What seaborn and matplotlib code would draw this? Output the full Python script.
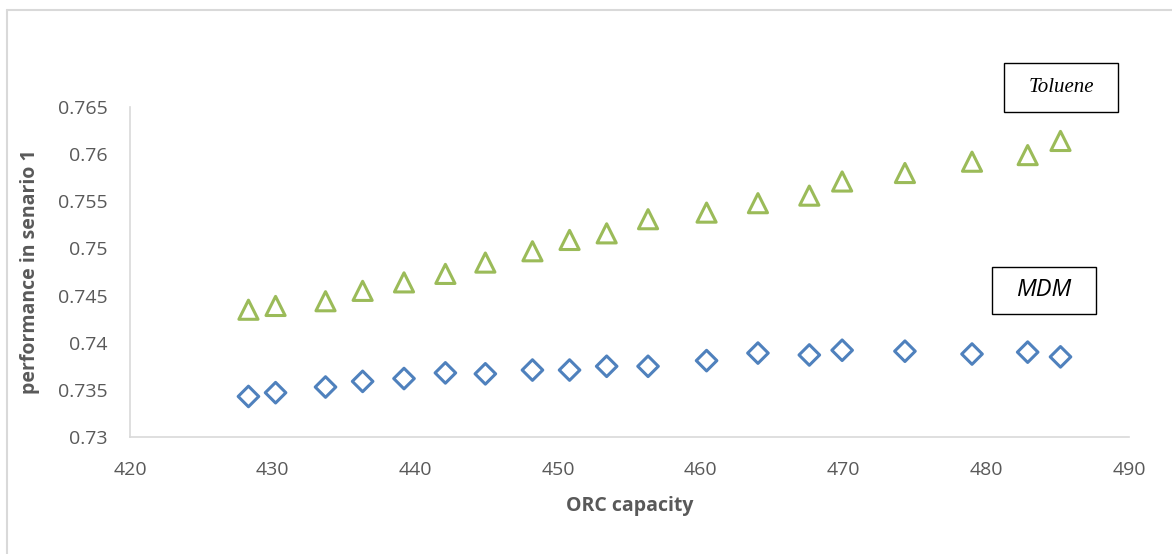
import numpy as np
import pandas as pd
import matplotlib
matplotlib.use("Agg")
import matplotlib.pyplot as plt
from matplotlib.patches import Rectangle
from matplotlib.lines import Line2D
import seaborn as sns

# data
orc_capacity = [428.3, 430.2, 433.7, 436.3, 439.2, 442.1, 444.9, 448.2, 450.8, 453.4,
                456.3, 460.4, 464.0, 467.6, 469.9, 474.3, 479.0, 482.9, 485.2]
toluene = [0.7435, 0.7439, 0.7444, 0.7455, 0.7464, 0.7473, 0.7485, 0.7497, 0.7509, 0.7516,
           0.7531, 0.7538, 0.7548, 0.7556, 0.7571, 0.7580, 0.7592, 0.7599, 0.7614]
mdm = [0.7343, 0.7347, 0.7353, 0.7359, 0.7362, 0.7368, 0.7367, 0.7371, 0.7371, 0.7375,
       0.7375, 0.7381, 0.7389, 0.7387, 0.7392, 0.7391, 0.7388, 0.7390, 0.7385]
x_ticks = [420, 430, 440, 450, 460, 470, 480, 490]
y_ticks = [0.73, 0.735, 0.74, 0.745, 0.75, 0.755, 0.76, 0.765]
y_ticklabels = ['0.73', '0.735', '0.74', '0.745', '0.75', '0.755', '0.76', '0.765']

df = pd.DataFrame({'ORC capacity': orc_capacity, 'Toluene': toluene, 'MDM': mdm})

sns.set_style('white')
plt.rcParams['font.family'] = ['Open Sans', 'DejaVu Sans']

blue = '#4F81BD'
green = '#9BBB59'
grey_txt = '#595959'
grey_ax = '#D9D9D9'

W, H = 1172, 554
fig = plt.figure(figsize=(W / 100, H / 100), dpi=100)
ax = fig.add_axes([130 / W, 1 - 437 / H, (1129 - 130) / W, (437 - 107) / H])

sns.scatterplot(data=df, x='ORC capacity', y='MDM', marker='D', s=110,
                facecolor='none', edgecolor=blue, linewidth=2.2, ax=ax)
sns.scatterplot(data=df, x='ORC capacity', y='Toluene', marker='^', s=190,
                facecolor='none', edgecolor=green, linewidth=2.2, ax=ax)

ax.set_xlim(420, 490)
ax.set_ylim(0.73, 0.765)
ax.set_xticks(x_ticks)
ax.set_yticks(y_ticks)
ax.set_yticklabels(y_ticklabels)
ax.tick_params(length=0, labelsize=14, labelcolor=grey_txt)
ax.tick_params(axis='y', pad=16)
ax.tick_params(axis='x', pad=17)
for s in ['top', 'right']:
    ax.spines[s].set_visible(False)
for s in ['left', 'bottom']:
    ax.spines[s].set_color(grey_ax)
    ax.spines[s].set_linewidth(1.2)

ax.set_xlabel('ORC capacity', fontsize=14, fontweight='bold', color=grey_txt)
ax.set_ylabel('performance in senario 1', fontsize=14, fontweight='bold', color=grey_txt)
ax.xaxis.set_label_coords(0.5, -0.18)
ax.yaxis.set_label_coords(-0.09, 0.5)


def fig_box(x0, y0, x1, y1, text, **kw):
    fig.patches.append(Rectangle((x0 / W, 1 - y1 / H), (x1 - x0) / W, (y1 - y0) / H,
                                 transform=fig.transFigure, fill=False,
                                 edgecolor='black', linewidth=1.0))
    fig.text((x0 + x1) / 2 / W, 1 - (y0 + y1) / 2 / H, text, ha='center', va='center',
             color='black', style='italic', **kw)


fig_box(1004, 63, 1118, 112, 'Toluene', fontsize=15, family='Liberation Serif')
fig_box(992, 267, 1096, 314, 'MDM', fontsize=17)

# light outer frame of the chart area
fig.lines.append(Line2D([6.5 / W, 1], [1 - 9.5 / H, 1 - 9.5 / H],
                        transform=fig.transFigure, color=grey_ax, linewidth=1.5))
fig.lines.append(Line2D([6.5 / W, 6.5 / W], [0, 1 - 9.5 / H],
                        transform=fig.transFigure, color=grey_ax, linewidth=1.5))

fig.savefig('out.png', dpi=100)
